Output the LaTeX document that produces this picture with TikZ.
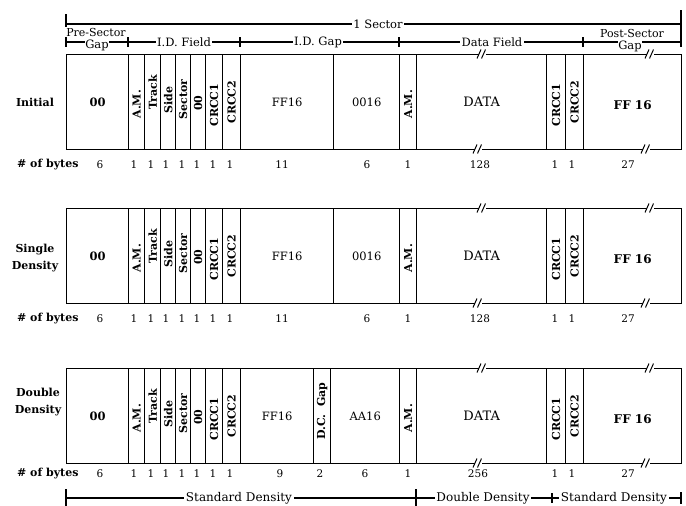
\documentclass[tikz,border=0pt]{standalone}
\usepackage{fontspec}
\setmainfont{DejaVu Serif}
\newcommand\mycell[6]{\node[cell, minimum width={#3-#2}, minimum height=#5] (#1) at (#2,#4) {#6};}
\newcommand\vlab[3]{\node[vtxt, xshift=#3] (#1t) at (#1.center) {#2};}
\newcommand\brk[2]{%
 \fill[white] ({#1-3.5},{#2-2}) rectangle ({#1+3.5},{#2+2});
 \draw[brkline] ({#1-5},{#2+4.5}) -- ({#1-1},{#2-4.5});
 \draw[brkline] ({#1-0.5},{#2+4.5}) -- ({#1+3.5},{#2-4.5});}
\newcommand\leftpart[2]{%
 \mycell{#1a}{66}{128}{#2}{95}{\textbf{00}}
 \mycell{#1b}{128}{144}{#2}{95}{}
 \mycell{#1c}{144}{160}{#2}{95}{}
 \mycell{#1d}{160}{175}{#2}{95}{}
 \mycell{#1e}{175}{190}{#2}{95}{}
 \mycell{#1f}{190}{205}{#2}{95}{}
 \mycell{#1g}{205}{222}{#2}{95}{}
 \mycell{#1h}{222}{240}{#2}{95}{}
 \vlab{#1b}{A.M.}{-2pt}
 \vlab{#1c}{Track}{10pt}
 \vlab{#1d}{Side}{2pt}
 \vlab{#1e}{Sector}{3pt}
 \vlab{#1f}{00}{-1pt}
 \vlab{#1g}{CRCC1}{-3pt}
 \vlab{#1h}{CRCC2}{0pt}}
\newcommand\rightpart[2]{%
 \mycell{#1k}{399}{416}{#2}{95}{}
 \mycell{#1l}{416}{546}{#2}{95}{}
 \mycell{#1m}{546}{565}{#2}{95}{}
 \mycell{#1n}{565}{583}{#2}{95}{}
 \mycell{#1o}{583}{681}{#2}{95}{}
 \vlab{#1k}{A.M.}{-2pt}
 \vlab{#1m}{CRCC1}{-3pt}
 \vlab{#1n}{CRCC2}{0pt}
 \node[celltxt, font=\fontsize{13}{15}\selectfont] (#1lt) at (#1l.center) {DATA};
 \node[celltxt, font=\bfseries\fontsize{12}{14}\selectfont, yshift=-3pt] (#1ot) at (#1o.center) {FF 16};
 \brk{482}{#2}\brk{650}{#2}
 \brk{478}{#2+95}\brk{646}{#2+95}}
\newcommand\numrow[2]{%
 \node[num, anchor=west, font=\bfseries\fontsize{11}{13}\selectfont] (#1h) at (17,#2) {\# of bytes};
 \node[num] (#1n0) at (100,#2) {6};
 \node[num] (#1n1) at (134,#2) {1};
 \node[num] (#1n2) at (151,#2) {1};
 \node[num] (#1n3) at (166,#2) {1};
 \node[num] (#1n4) at (182,#2) {1};
 \node[num] (#1n5) at (197,#2) {1};
 \node[num] (#1n6) at (213,#2) {1};
 \node[num] (#1n7) at (230,#2) {1};
 \node[num] (#1n10) at (408,#2) {1};
 \node[num] (#1n12) at (555,#2) {1};
 \node[num] (#1n13) at (572,#2) {1};
 \node[num] (#1n14) at (628,#2) {27};}
\begin{document}
\begin{tikzpicture}[x=1pt,y=-1pt,
  cell/.style={draw, line width=1.4pt, inner sep=0pt, anchor=north west, font=\fontsize{11.5}{13}\selectfont},
  celltxt/.style={inner sep=0pt},
  vtxt/.style={rotate=90, inner sep=0pt, font=\bfseries\fontsize{11}{12}\selectfont},
  brkline/.style={line width=1pt},
  rul/.style={line width=1.1pt},
  rlab/.style={fill=white, inner sep=1.5pt, font=\fontsize{11.5}{13}\selectfont},
  rowlab/.style={font=\bfseries\fontsize{11}{17}\selectfont, align=center, inner sep=0pt},
  num/.style={font=\fontsize{10.5}{12}\selectfont, inner sep=0pt}]
\useasboundingbox (0,0) rectangle (686,506);

% ---- top rulers
\coordinate (s1l) at (66,24); \coordinate (s1r) at (681,24);
\draw[rul] (s1l) -- (s1r);
\draw[rul] ([yshift=10pt]s1l) -- ([yshift=-3pt]s1l);
\draw[rul] ([yshift=14pt]s1r) -- ([yshift=-23pt]s1r);
\node[rlab] (sector) at (378,24) {1 Sector};

\coordinate (t0) at (66,42); \coordinate (t1) at (128,42); \coordinate (t2) at (240,42);
\coordinate (t3) at (399,42); \coordinate (t4) at (583,42); \coordinate (t5) at (681,42);
\draw[rul] (t0) -- (t5);
\foreach \c in {t0,t1,t2,t3,t4} \draw[rul] ([yshift=5pt]\c) -- ([yshift=-5pt]\c);
\node[rlab, inner sep=0.5pt] (pregap) at (97,45) {Gap};
\node[inner sep=0pt, font=\fontsize{11}{13}\selectfont] (presec) at (96,32) {Pre-Sector};
\node[rlab] (idf) at (184,42) {I.D. Field};
\node[rlab] (idg) at (318,42) {I.D. Gap};
\node[rlab] (df) at (492,42) {Data Field};
\node[inner sep=0pt, font=\fontsize{11}{13}\selectfont] (postsec) at (632,33) {Post-Sector};
\node[rlab, inner sep=0.5pt] (postgap) at (630,46) {Gap};

% ---- row 1: Initial
\node[rowlab] (lab1) at (35,102) {Initial};
\leftpart{p}{54}
\mycell{pi}{240}{333}{54}{95}{FF16}
\mycell{pj}{333}{399}{54}{95}{0016}
\rightpart{p}{54}
\numrow{pr}{165}
\node[num] (pr8) at (282,165) {11};
\node[num] (pr9) at (367,165) {6};
\node[num] (pr11) at (480,165) {128};

% ---- row 2: Single Density
\node[rowlab] (lab2) at (35,258) {Single\\Density};
\leftpart{q}{208}
\mycell{qi}{240}{333}{208}{95}{FF16}
\mycell{qj}{333}{399}{208}{95}{0016}
\rightpart{q}{208}
\numrow{qr}{319}
\node[num] (qr8) at (282,319) {11};
\node[num] (qr9) at (367,319) {6};
\node[num] (qr11) at (480,319) {128};

% ---- row 3: Double Density
\node[rowlab] (lab3) at (38,402) {Double\\Density};
\leftpart{s}{368}
\mycell{si}{240}{313}{368}{95}{FF16}
\mycell{sx}{313}{330}{368}{95}{}
\vlab{sx}{D.C.~~Gap}{5pt}
\mycell{sj}{330}{399}{368}{95}{AA16}
\rightpart{s}{368}
\numrow{sr}{474}
\node[num] (sr8) at (280,474) {9};
\node[num] (srx) at (320,474) {2};
\node[num] (sr9) at (365,474) {6};
\node[num] (sr11) at (478,474) {256};

% ---- bottom ruler
\coordinate (b0) at (66,498); \coordinate (b1) at (416,498);
\coordinate (b2) at (552,498); \coordinate (b3) at (681,498);
\draw[rul] (b0) -- (b3);
\draw[rul] ([yshift=9pt]b0) -- ([yshift=-8pt]b0);
\draw[rul] ([yshift=9pt]b1) -- ([yshift=-8pt]b1);
\draw[rul] ([yshift=5pt]b2) -- ([yshift=-5pt]b2);
\draw[rul] ([yshift=6pt]b3) -- ([yshift=-6pt]b3);
\node[rlab, font=\fontsize{12}{14}\selectfont] (sd1) at (239,498) {Standard Density};
\node[rlab, font=\fontsize{12}{14}\selectfont] (dd) at (483,498) {Double Density};
\node[rlab, font=\fontsize{12}{14}\selectfont] (sd2) at (614,498) {Standard Density};
\end{tikzpicture}
\end{document}
